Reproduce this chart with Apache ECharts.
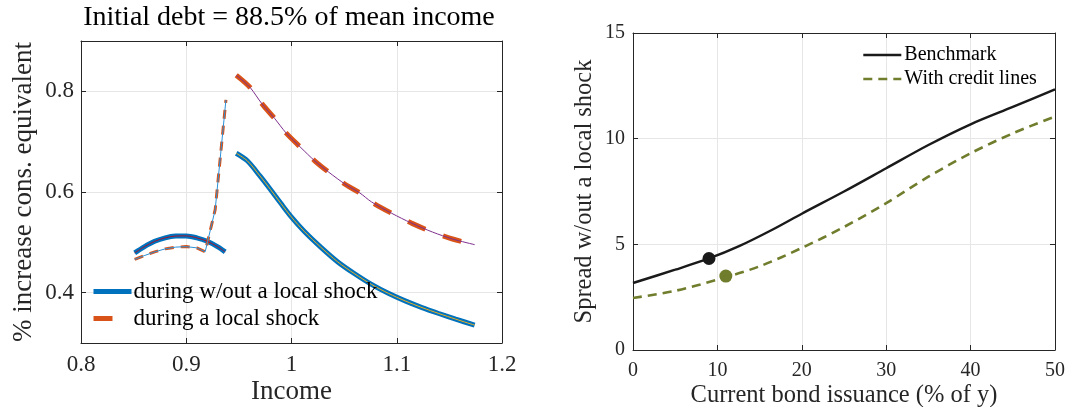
<!DOCTYPE html>
<html>
<head>
<meta charset="utf-8">
<script src="https://cdn.jsdelivr.net/npm/echarts@6/dist/echarts.min.js"></script>
<style>
html,body{margin:0;padding:0;background:#fff;}
#c{width:1065px;height:407px;}
</style>
</head>
<body>
<div id="c"></div>
<script>
// ---------- Left panel data ----------
const leftTitle = 'Initial debt = 88.5% of mean income';
const leftXTicks = [0.8, 0.9, 1.0, 1.1, 1.2];
const leftYTicks = [0.4, 0.6, 0.8];

// "during w/out a local shock" (thick blue)
const woutSeg1X = [0.851, 0.860, 0.870, 0.880, 0.890, 0.900, 0.910, 0.920, 0.930, 0.937];
const woutSeg1Y = [0.479, 0.491, 0.502, 0.509, 0.5125, 0.5128, 0.509, 0.502, 0.491, 0.481];
const woutSeg2X = [0.9475, 0.958, 0.970, 0.980, 0.990, 1.000, 1.012, 1.028, 1.044, 1.060, 1.076, 1.092, 1.108, 1.124, 1.140, 1.156, 1.174];
const woutSeg2Y = [0.677, 0.662, 0.632, 0.605, 0.577, 0.550, 0.522, 0.490, 0.461, 0.4375, 0.4164, 0.3987, 0.3836, 0.3704, 0.3586, 0.3474, 0.3355];

// "during a local shock" (orange dashed)
const duringSeg1X = [0.851, 0.860, 0.870, 0.880, 0.890, 0.900, 0.910, 0.918, 0.9275, 0.9377];
const duringSeg1Y = [0.466, 0.4735, 0.481, 0.487, 0.4905, 0.4915, 0.489, 0.4813, 0.565, 0.783];
const duringSeg2X = [0.9475, 0.955, 0.961, 0.972, 0.984, 0.995, 1.009, 1.022, 1.035, 1.052, 1.065, 1.076, 1.095, 1.114, 1.134, 1.153, 1.174];
const duringSeg2Y = [0.832, 0.819, 0.807, 0.775, 0.746, 0.717, 0.688, 0.662, 0.640, 0.614, 0.598, 0.5803, 0.5579, 0.5382, 0.5204, 0.5066, 0.4954];

// ---------- Right panel data ----------
const benchX = [0, 5, 9, 12.5, 16.5, 20, 25, 30, 35, 40, 45, 50];
const benchY = [3.17, 3.8, 4.33, 4.9, 5.69, 6.45, 7.5, 8.6, 9.7, 10.68, 11.5, 12.33];
const creditX = [0, 5, 10, 15, 20, 25, 30, 35, 40, 45, 50];
const creditY = [2.46, 2.8, 3.33, 3.96, 4.83, 5.82, 6.95, 8.2, 9.31, 10.25, 11.05];
const benchDot = [9, 4.33];
const creditDot = [11, 3.5];

const zip = (xs, ys) => xs.map((x, i) => [x, ys[i]]);

const FONT = 'Liberation Serif';
const AX = '#262626';
const GRIDC = '#e6e6e6';
const BLUE = '#0072BD', ORANGE = '#D95319', YELLOW = '#EDB120', PURPLE = '#7E2F8E', DRED = '#A2142F';
const OLIVE = '#6f7d2c', BLACK = '#1a1a1a';

function mainAxis(extra) {
  return Object.assign({
    type: 'value',
    axisLine: { show: true, onZero: false, lineStyle: { color: AX, width: 1 } },
    axisTick: { show: true, inside: true, length: 5, lineStyle: { color: AX } },
    axisLabel: { color: AX, fontFamily: FONT },
    splitLine: { show: true, lineStyle: { color: GRIDC, width: 1 } },
    nameTextStyle: { color: AX, fontFamily: FONT },
    nameLocation: 'middle',
    nameMoveOverlap: false
  }, extra);
}
function boxAxis(extra) {
  return Object.assign({
    type: 'value',
    axisLine: { show: true, onZero: false, lineStyle: { color: AX, width: 1 } },
    axisTick: { show: true, inside: true, length: 5, lineStyle: { color: AX } },
    axisLabel: { show: false },
    splitLine: { show: false }
  }, extra);
}

const chart = echarts.init(document.getElementById('c'), null, { renderer: 'canvas' });
const option = {
  animation: false,
  graphic: [{
    type: 'text', x: 289, y: 18,
    style: { text: leftTitle, textAlign: 'center', textVerticalAlign: 'middle', fill: '#000', font: '28px "Liberation Serif"' }
  }],
  grid: [
    { left: 81, top: 41, width: 421, height: 302, outerBoundsMode: 'none', containLabel: false },
    { left: 633, top: 33, width: 422, height: 317, outerBoundsMode: 'none', containLabel: false }
  ],
  xAxis: [
    mainAxis({ gridIndex: 0, min: 0.8, max: 1.2, interval: 0.1,
      axisLabel: { color: AX, fontFamily: FONT, fontSize: 23, margin: 10,
        customValues: leftXTicks, formatter: v => String(+v.toFixed(2)) },
      axisTick: { show: true, inside: true, length: 5, lineStyle: { color: AX }, customValues: leftXTicks },
      name: 'Income', nameGap: 35, nameTextStyle: { color: AX, fontFamily: FONT, fontSize: 27 } }),
    boxAxis({ gridIndex: 0, position: 'top', min: 0.8, max: 1.2, interval: 0.1 }),
    mainAxis({ gridIndex: 1, min: 0, max: 50, interval: 10,
      axisLabel: { color: AX, fontFamily: FONT, fontSize: 20, margin: 11 },
      name: 'Current bond issuance (% of y)', nameGap: 33, nameTextStyle: { color: AX, fontFamily: FONT, fontSize: 24.5 } }),
    boxAxis({ gridIndex: 1, position: 'top', min: 0, max: 50, interval: 10 })
  ],
  yAxis: [
    mainAxis({ gridIndex: 0, min: 0.3, max: 0.9, interval: 0.1,
      axisLabel: { color: AX, fontFamily: FONT, fontSize: 23, margin: 7, customValues: leftYTicks,
        formatter: v => String(+v.toFixed(2)) },
      axisTick: { show: true, inside: true, length: 5, lineStyle: { color: AX }, customValues: leftYTicks },
      name: '% increase cons. equivalent', nameGap: 44, nameTextStyle: { color: AX, fontFamily: FONT, fontSize: 27 } }),
    boxAxis({ gridIndex: 0, position: 'right', min: 0.3, max: 0.9, interval: 0.1,
      axisTick: { show: true, inside: true, length: 5, lineStyle: { color: AX }, customValues: leftYTicks } }),
    mainAxis({ gridIndex: 1, min: 0, max: 15, interval: 5,
      axisLabel: { color: AX, fontFamily: FONT, fontSize: 20, margin: 8 },
      name: 'Spread w/out a local shock', nameGap: 36, nameTextStyle: { color: AX, fontFamily: FONT, fontSize: 24.5 } }),
    boxAxis({ gridIndex: 1, position: 'right', min: 0, max: 15, interval: 5 })
  ],
  legend: [
    { orient: 'vertical', left: 91, top: 280, itemWidth: 38, itemHeight: 14, itemGap: 4,
      data: ['during w/out a local shock', 'during a local shock'],
      itemStyle: { opacity: 0, borderWidth: 0 },
      lineStyle: { width: 'inherit' },
      textStyle: { fontFamily: FONT, fontSize: 23, color: '#000', padding: [0, 0, 0, -3] }, padding: 0 },
    { orient: 'vertical', left: 862, top: 45, itemWidth: 38, itemHeight: 14, itemGap: 4,
      data: ['Benchmark', 'With credit lines'],
      itemStyle: { opacity: 0, borderWidth: 0 },
      lineStyle: { width: 'inherit' },
      textStyle: { fontFamily: FONT, fontSize: 20, color: '#000', padding: [0, 0, 0, -2] }, padding: 0 }
  ],
  series: [
    { type: 'line', name: 'during w/out a local shock', xAxisIndex: 0, yAxisIndex: 0, data: zip(woutSeg1X, woutSeg1Y),
      symbol: 'none', smooth: 0.3, lineStyle: { color: BLUE, width: 5 }, itemStyle: { color: BLUE } },
    { type: 'line', name: 'during w/out a local shock', xAxisIndex: 0, yAxisIndex: 0, data: zip(woutSeg2X, woutSeg2Y),
      symbol: 'none', smooth: 0.3, lineStyle: { color: BLUE, width: 5 }, itemStyle: { color: BLUE } },
    { type: 'line', name: 'during a local shock', xAxisIndex: 0, yAxisIndex: 0, data: zip(duringSeg2X, duringSeg2Y),
      symbol: 'none', smooth: 0.3, lineStyle: { color: ORANGE, width: 5, type: [19, 19] }, itemStyle: { color: ORANGE } },
    { type: 'line', name: 'during a local shock', xAxisIndex: 0, yAxisIndex: 0, data: zip(duringSeg1X, duringSeg1Y),
      symbol: 'none', lineStyle: { color: ORANGE, width: 3, type: [9, 7] }, itemStyle: { color: ORANGE } },
    { type: 'line', name: 'o1', xAxisIndex: 0, yAxisIndex: 0, data: zip(woutSeg1X, woutSeg1Y),
      symbol: 'none', smooth: 0.3, lineStyle: { color: DRED, width: 1 } },
    { type: 'line', name: 'o2', xAxisIndex: 0, yAxisIndex: 0, data: zip(duringSeg1X, duringSeg1Y),
      symbol: 'none', lineStyle: { color: '#2b8fd6', width: 1 } },
    { type: 'line', name: 'o3', xAxisIndex: 0, yAxisIndex: 0, data: zip(woutSeg2X, woutSeg2Y),
      symbol: 'none', smooth: 0.3, lineStyle: { color: YELLOW, width: 1 } },
    { type: 'line', name: 'o4', xAxisIndex: 0, yAxisIndex: 0, data: zip(duringSeg2X, duringSeg2Y),
      symbol: 'none', smooth: 0.3, lineStyle: { color: PURPLE, width: 1 } },

    { type: 'line', name: 'Benchmark', xAxisIndex: 2, yAxisIndex: 2, data: zip(benchX, benchY),
      symbol: 'none', smooth: 0.3, lineStyle: { color: BLACK, width: 2.4 }, itemStyle: { color: BLACK } },
    { type: 'line', name: 'With credit lines', xAxisIndex: 2, yAxisIndex: 2, data: zip(creditX, creditY),
      symbol: 'none', smooth: 0.3, lineStyle: { color: OLIVE, width: 2.6, type: [9, 6] }, itemStyle: { color: OLIVE } },
    { type: 'scatter', name: 'dot1', xAxisIndex: 2, yAxisIndex: 2, data: [benchDot],
      symbol: 'circle', symbolSize: 13, itemStyle: { color: BLACK, opacity: 1 } },
    { type: 'scatter', name: 'dot2', xAxisIndex: 2, yAxisIndex: 2, data: [creditDot],
      symbol: 'circle', symbolSize: 13, itemStyle: { color: OLIVE, opacity: 1 } }
  ]
};
chart.setOption(option);
</script>
</body>
</html>
